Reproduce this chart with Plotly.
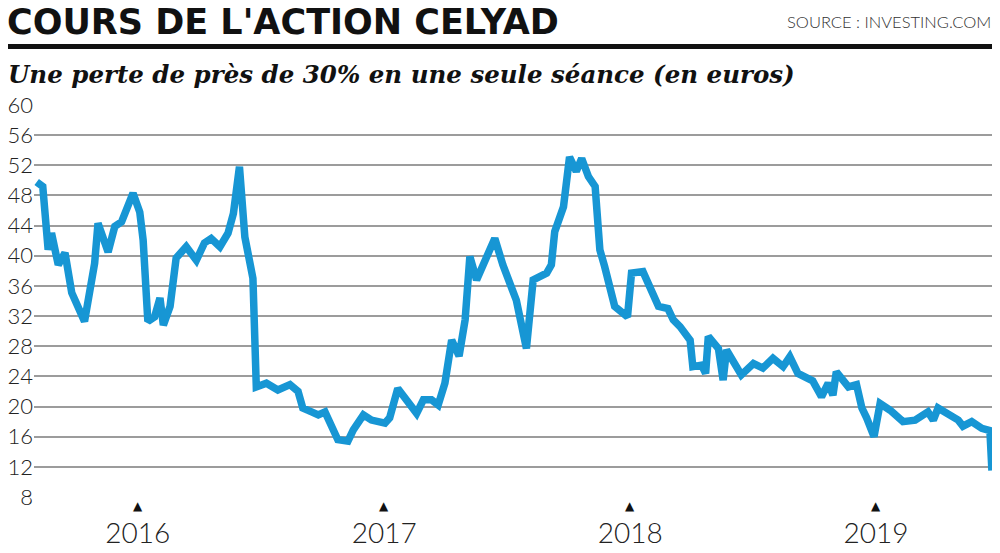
import plotly.graph_objects as go

# ---- data ----
dates = [
    "2015-08-04", "2015-08-13", "2015-08-21", "2015-08-26", "2015-09-05", "2015-09-15",
    "2015-09-25", "2015-10-14", "2015-10-29", "2015-11-03", "2015-11-18", "2015-11-28",
    "2015-12-08", "2015-12-25", "2016-01-04", "2016-01-09", "2016-01-16", "2016-01-26",
    "2016-02-03", "2016-02-08", "2016-02-18", "2016-02-27", "2016-03-13", "2016-03-28",
    "2016-04-09", "2016-04-19", "2016-05-02", "2016-05-14", "2016-05-22", "2016-05-31",
    "2016-06-08", "2016-06-20", "2016-06-25", "2016-07-10", "2016-07-27", "2016-08-14",
    "2016-08-26", "2016-09-02", "2016-09-15", "2016-09-25", "2016-10-05", "2016-10-15",
    "2016-10-24", "2016-11-08", "2016-11-16", "2016-12-01", "2016-12-13", "2017-01-02",
    "2017-01-09", "2017-01-21", "2017-02-05", "2017-02-18", "2017-02-28", "2017-03-12",
    "2017-03-22", "2017-04-01", "2017-04-11", "2017-04-22", "2017-05-01", "2017-05-08",
    "2017-05-18", "2017-06-02", "2017-06-14", "2017-06-26", "2017-07-16", "2017-07-31",
    "2017-08-10", "2017-08-30", "2017-09-06", "2017-09-11", "2017-09-24", "2017-10-03",
    "2017-10-13", "2017-10-21", "2017-10-31", "2017-11-10", "2017-11-17", "2017-11-24",
    "2017-12-09", "2017-12-28", "2018-01-03", "2018-01-20", "2018-02-02", "2018-02-12",
    "2018-02-26", "2018-03-06", "2018-03-16", "2018-03-31", "2018-04-04", "2018-04-17",
    "2018-04-23", "2018-04-27", "2018-05-12", "2018-05-19", "2018-05-24", "2018-06-15",
    "2018-07-03", "2018-07-17", "2018-08-01", "2018-08-16", "2018-08-26", "2018-09-07",
    "2018-09-29", "2018-10-12", "2018-10-22", "2018-10-29", "2018-11-03", "2018-11-21",
    "2018-12-03", "2018-12-11", "2018-12-18", "2018-12-29", "2019-01-07", "2019-01-22",
    "2019-02-10", "2019-02-28", "2019-03-19", "2019-03-27", "2019-04-03", "2019-04-18",
    "2019-05-03", "2019-05-10", "2019-05-23", "2019-06-07", "2019-06-19", "2019-06-22",
]
prices = [
    49.8, 49.2, 40.8, 43.0, 38.8, 40.4,
    35.1, 31.3, 39.0, 44.3, 40.5, 43.9,
    44.5, 48.3, 45.8, 42.1, 31.3, 31.9,
    34.4, 30.8, 33.3, 39.7, 41.2, 39.4,
    41.7, 42.3, 41.2, 43.0, 45.6, 51.8,
    42.5, 37.0, 22.6, 23.1, 22.2, 22.9,
    22.0, 19.8, 19.3, 18.9, 19.3, 17.6,
    15.6, 15.4, 16.9, 18.9, 18.2, 17.8,
    18.5, 22.4, 20.4, 19.1, 20.9, 20.9,
    20.2, 23.1, 28.8, 26.7, 31.5, 39.9,
    36.8, 39.7, 42.3, 38.8, 34.1, 27.7,
    36.8, 37.7, 38.8, 43.2, 46.5, 53.1,
    51.2, 52.9, 50.5, 49.2, 40.8, 38.6,
    33.3, 31.9, 37.7, 37.9, 35.5, 33.3,
    33.0, 31.5, 30.6, 28.8, 25.3, 25.5,
    24.4, 29.3, 27.7, 23.5, 27.5, 24.2,
    25.7, 25.1, 26.4, 25.3, 26.6, 24.4,
    23.4, 21.3, 23.1, 21.5, 24.6, 22.6,
    22.9, 19.8, 18.5, 16.0, 20.4, 19.5,
    18.0, 18.2, 19.3, 18.2, 19.8, 18.9,
    18.2, 17.4, 18.0, 17.1, 16.8, 11.5,
]
year_ticks = ["2016-01-01", "2017-01-01", "2018-01-01", "2019-01-01"]
year_labels = ["2016", "2017", "2018", "2019"]
y_ticks = list(range(8, 61, 4))

# ---- layout helpers ----
# the page body has an 8px default margin: the figure is drawn 8px in from the top/left
OFF = 8
W, H = 1000 - OFF, 553 - OFF
ML, MR, MT, MB = 34 - OFF, 0, 105 - OFF, 56
PW, PH = W - ML - MR, H - MT - MB


def px_x(px):
    """reference-screenshot x pixel -> paper coordinate"""
    return (px - OFF - ML) / PW


def px_y(py):
    """reference-screenshot y pixel -> paper coordinate"""
    return (H - MB - (py - OFF)) / PH


LINE_BLUE = "#1796d4"
LABEL_FONT = dict(family="Lato, 'Open Sans', sans-serif", weight=300, color="#222222")

fig = go.Figure()
fig.add_trace(go.Scatter(
    x=dates, y=prices, mode="lines",
    line=dict(color=LINE_BLUE, width=7.5, shape="linear"),
    hoverinfo="x+y", showlegend=False,
))

# small year markers (triangles) below the axis
triangle_marks = [
    dict(text="▲", xref="x", yref="paper", x=d, y=px_y(506), xanchor="center", yanchor="middle",
         showarrow=False, font=dict(family="'DejaVu Sans', sans-serif", size=12, color="#111111"))
    for d in year_ticks
]

fig.update_layout(
    width=W, height=H,
    margin=dict(l=ML, r=MR, t=MT, b=MB, pad=0),
    paper_bgcolor="white", plot_bgcolor="white",
    xaxis=dict(
        type="date", range=["2015-07-31", "2019-07-04"],
        tickmode="array", tickvals=year_ticks, ticktext=year_labels,
        showgrid=False, zeroline=False, showline=False, ticks="",
        tickfont=dict(size=28, **LABEL_FONT), ticklabelstandoff=17,
        automargin=False,
    ),
    yaxis=dict(
        range=[8, 60], tickmode="array", tickvals=y_ticks,
        showgrid=True, gridcolor="#9c9c9c", gridwidth=1.5,
        zeroline=False, showline=False, ticks="",
        tickfont=dict(size=22, **LABEL_FONT), ticklabelstandoff=0,
        automargin=False,
    ),
    shapes=[dict(
        type="line", xref="paper", yref="paper",
        x0=px_x(OFF), x1=px_x(1000), y0=px_y(46.5), y1=px_y(46.5),
        line=dict(color="#111111", width=5),
    )],
    annotations=[
        dict(text="<b>COURS DE L'ACTION CELYAD</b>", xref="paper", yref="paper",
             x=px_x(OFF - 3), y=px_y(22), xanchor="left", yanchor="middle", showarrow=False,
             font=dict(family="'DejaVu Sans', sans-serif", size=35, color="#111111")),
        dict(text="SOURCE : INVESTING.COM", xref="paper", yref="paper",
             x=px_x(993), y=px_y(22), xanchor="right", yanchor="middle", showarrow=False,
             font=dict(family="Lato, 'Open Sans', sans-serif", size=16.5, weight=300, color="#333333")),
        dict(text="<i>Une perte de près de 30% en une seule séance (en euros)</i>",
             xref="paper", yref="paper",
             x=px_x(OFF - 2), y=px_y(74), xanchor="left", yanchor="middle", showarrow=False,
             font=dict(family="'DejaVu Serif', serif", size=24.5, weight=700, color="#111111")),
    ] + triangle_marks,
)

fig.write_html("out.html")
